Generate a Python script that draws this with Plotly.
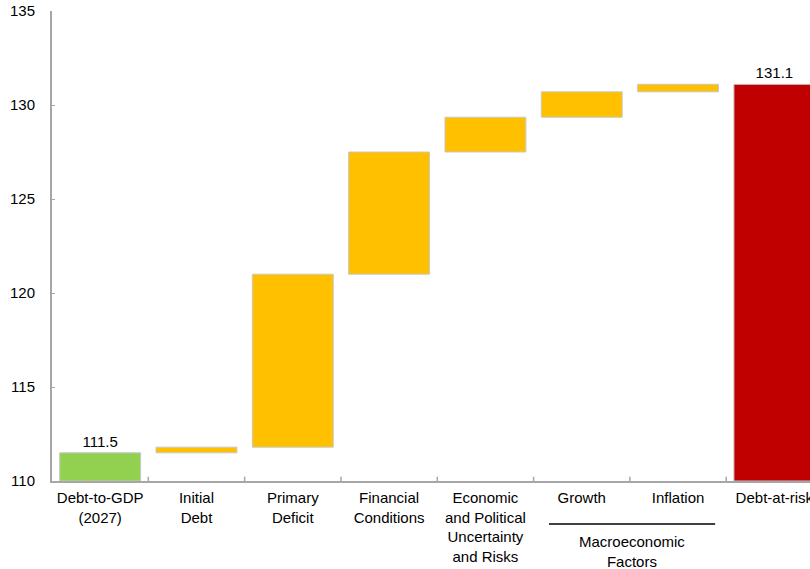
import plotly.graph_objects as go

categories = ["Debt-to-GDP<br>(2027)", "Initial<br>Debt", "Primary<br>Deficit",
              "Financial<br>Conditions", "Economic<br>and Political<br>Uncertainty<br>and Risks",
              "Growth", "Inflation", "Debt-at-risk"]
bases = [110.0, 111.5, 111.8, 121.0, 127.5, 129.35, 130.7, 110.0]
heights = [1.5, 0.3, 9.2, 6.5, 1.85, 1.35, 0.4, 21.1]
bar_labels = ["111.5", "", "", "", "", "", "", "131.1"]
colors = ["#92D050"] + ["#FFC000"] * 6 + ["#C00000"]
y_ticks = [110, 115, 120, 125, 130, 135]
boundaries = [0.5, 1.5, 2.5, 3.5, 4.5, 5.5, 6.5]

font = "Liberation Sans, Arial, sans-serif"
FS = 15

fig = go.Figure()
fig.add_trace(go.Bar(
    x=list(range(len(categories))), y=heights, base=bases,
    marker=dict(color=colors, line=dict(color="#C8C8C8", width=1)),
    width=0.84,
    text=bar_labels, textposition="outside", cliponaxis=False,
    textfont=dict(family=font, size=FS, color="#000000"),
    hoverinfo="skip",
))

fig.update_layout(
    width=810, height=569,
    margin=dict(l=52, r=0, t=11, b=88, autoexpand=False),
    plot_bgcolor="white", paper_bgcolor="white",
    showlegend=False,
    font=dict(family=font, size=FS, color="#000000"),
)
fig.update_xaxes(
    tickmode="array", tickvals=list(range(len(categories))), ticktext=categories,
    range=[-0.5, 7.37], automargin=False, ticklabeloverflow="allow",
    showline=True, linecolor="#A6A6A6", linewidth=2,
    ticks="", showgrid=False, zeroline=False,
    ticklabelstandoff=2,
    tickfont=dict(family=font, size=FS, color="#000000"),
)
for b in boundaries:
    fig.add_shape(type="line", xref="x", yref="paper", x0=b, x1=b, y0=0, y1=0.009,
                  line=dict(color="#A6A6A6", width=1.5))
fig.update_yaxes(
    range=[110, 135], tickvals=y_ticks, automargin=False, ticklabeloverflow="allow",
    showline=True, linecolor="#A6A6A6", linewidth=2,
    ticks="inside", ticklen=3, tickcolor="#A6A6A6",
    showgrid=False, zeroline=False,
    ticklabelstandoff=12,
    tickfont=dict(family=font, size=FS, color="#000000"),
)

# Macroeconomic Factors bracket
fig.add_shape(type="line", xref="x", yref="paper", x0=4.66, x1=6.385, y0=-0.0915, y1=-0.0915,
              line=dict(color="#000000", width=1.5))
fig.add_annotation(x=5.52, xref="x", y=-0.106, yref="paper", yanchor="top",
                   text="Macroeconomic<br>Factors", showarrow=False,
                   font=dict(family=font, size=FS, color="#000000"))

fig.write_html("out.html", config={"displayModeBar": False, "staticPlot": True},
               post_script="document.body.style.margin='0';document.body.style.overflow='hidden';")
